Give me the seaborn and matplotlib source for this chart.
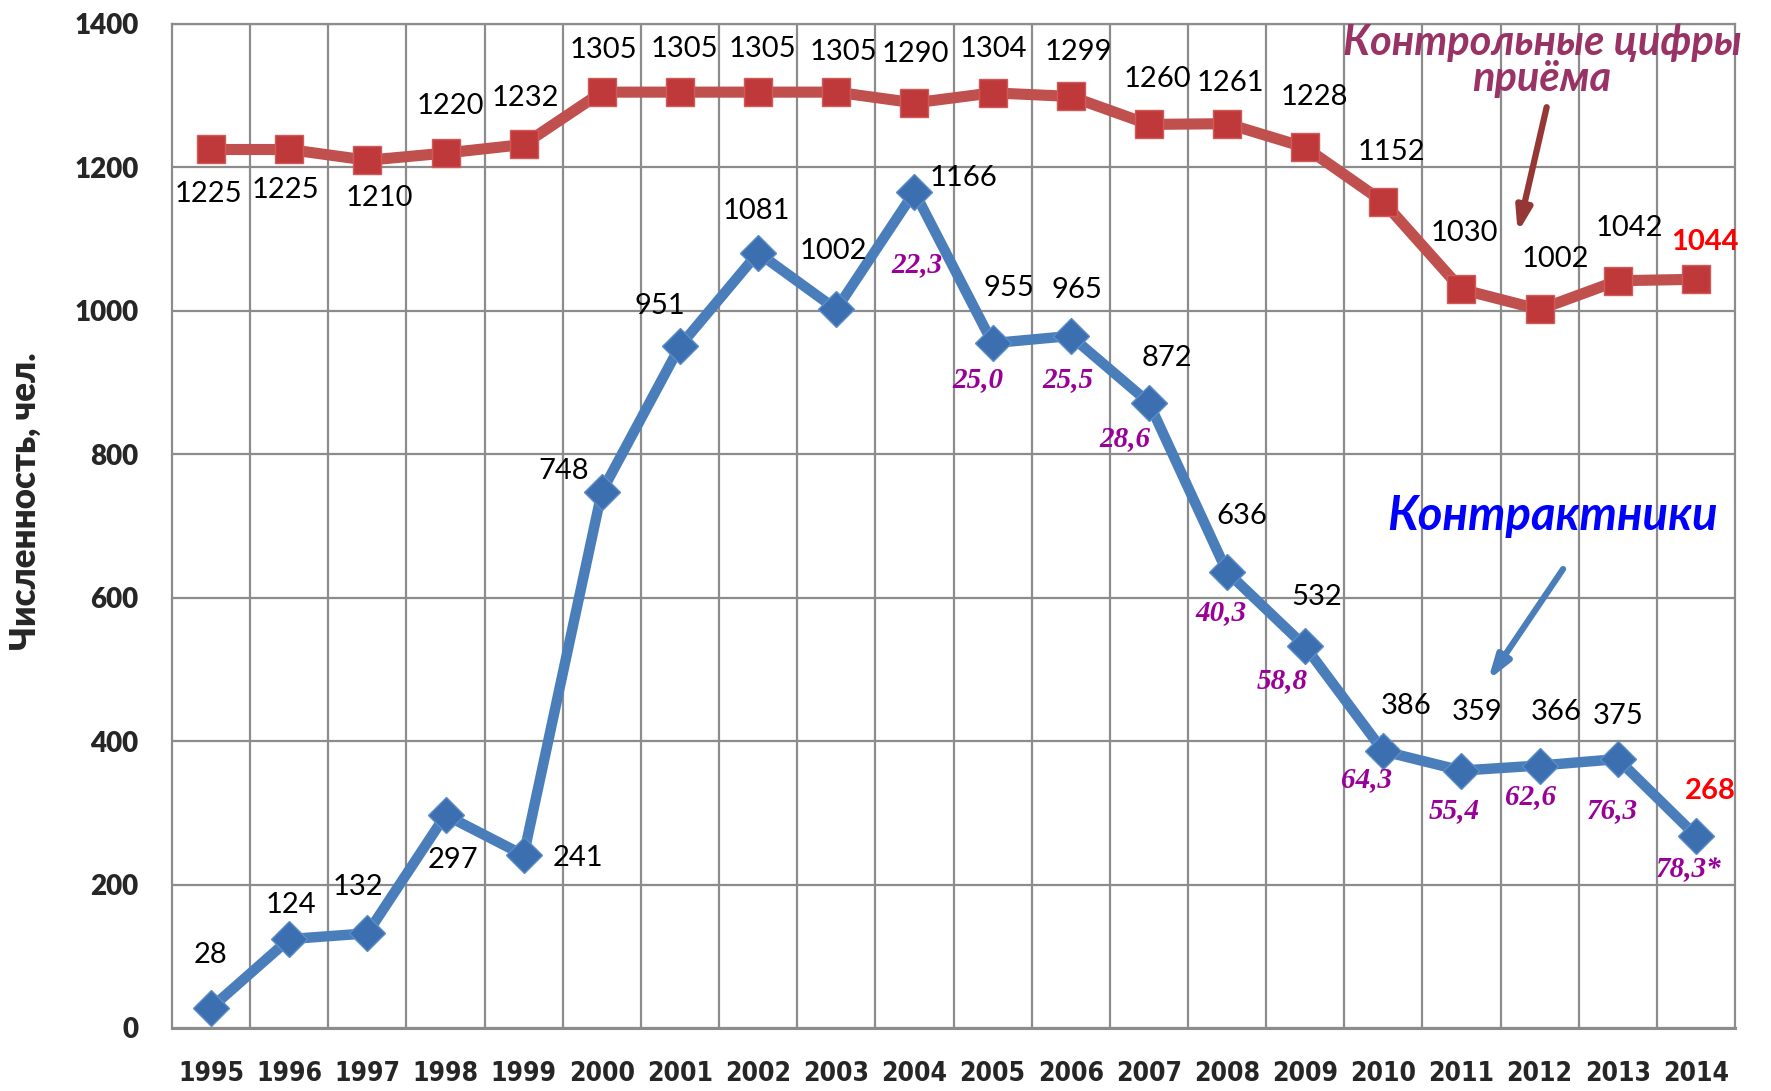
import matplotlib
matplotlib.use("Agg")
import matplotlib.pyplot as plt
import seaborn as sns

# data
years = [1995, 1996, 1997, 1998, 1999, 2000, 2001, 2002, 2003, 2004,
         2005, 2006, 2007, 2008, 2009, 2010, 2011, 2012, 2013, 2014]
plan = [1225, 1225, 1210, 1220, 1232, 1305, 1305, 1305, 1305, 1290,
        1304, 1299, 1260, 1261, 1228, 1152, 1030, 1002, 1042, 1044]
contract = [28, 124, 132, 297, 241, 748, 951, 1081, 1002, 1166,
            955, 965, 872, 636, 532, 386, 359, 366, 375, 268]
share_years = [2004, 2005, 2006, 2007, 2008, 2009, 2010, 2011, 2012, 2013, 2014]
share_labels = ["22,3", "25,0", "25,5", "28,6", "40,3", "58,8",
                "64,3", "55,4", "62,6", "76,3", "78,3*"]
yticks = [0, 200, 400, 600, 800, 1000, 1200, 1400]

# label offsets in pixels (layout only)
plan_off = [(-3, -45), (-4, -41), (12, -38), (5, 47), (2, 46), (2, 42), (4, 43),
            (4, 43), (7, 40), (1, 49), (1, 44), (8, 44), (9, 45), (3, 41),
            (9, 50), (8, 50), (3, 56), (16, 50), (12, 53), (9, 37)]
contract_off = [(-1, 53), (2, 34), (-9, 46), (7, -45), (54, -3), (-38, 21),
                (-20, 40), (-2, 42), (-3, 58), (49, 14), (16, 55), (6, 46),
                (18, 45), (15, 56), (12, 49), (23, 45), (16, 59), (17, 54),
                (0, 43), (14, 45)]
share_off = [(2, -73), (-15, -36), (-3, -44), (-24, -36), (-6, -41), (-23, -34),
             (-17, -28), (-7, -40), (-9, -31), (-5, -51), (-7, -34)]

sns.set_style("white")
plt.rcParams["font.family"] = ["Lato", "DejaVu Sans"]

red = "#C0504D"
blue = "#4A7EBB"
purple = "#990099"
grid_c = "#8C8C8C"

fig = plt.figure(figsize=(17.71, 10.91), dpi=100)
ax = fig.add_axes([172 / 1771, 1 - 1028 / 1091, (1735 - 172) / 1771, (1028 - 24) / 1091])

sns.lineplot(x=years, y=contract, ax=ax, color=blue, lw=7.5, marker="D",
             markersize=18, markerfacecolor="#3C6FB0", markeredgecolor="#5A8CC8",
             markeredgewidth=1, zorder=4)
sns.lineplot(x=years, y=plan, ax=ax, color=red, lw=8, marker="s",
             markersize=20, markerfacecolor="#C0393A", markeredgecolor="#D05A5A",
             markeredgewidth=1, zorder=4)

ax.set_xlim(years[0] - 0.5, years[-1] + 0.5)
ax.set_ylim(0, 1400)
ax.set_yticks(yticks)
ax.set_xticks(years)
ax.set_xticks([y + 0.5 for y in years[:-1]], minor=True)
ax.grid(which="minor", axis="x", color=grid_c, lw=1.6)
ax.grid(which="major", axis="y", color=grid_c, lw=1.6)
ax.grid(which="major", axis="x", visible=False)
for s in ax.spines.values():
    s.set_color(grid_c)
    s.set_linewidth(1.6)
ax.spines["bottom"].set_linewidth(2.2)
ax.tick_params(which="both", length=0)
ax.tick_params(axis="y", pad=24)
ax.tick_params(axis="x", pad=24)
for t in ax.get_yticklabels():
    t.set_fontsize(20)
    t.set_fontweight("heavy")
for t in ax.get_xticklabels():
    t.set_fontsize(19)
    t.set_fontweight("bold")
    t.set_family(["DejaVu Sans"])
    t.set_fontstretch("condensed")
ax.set_xlabel("")
ax.set_ylabel("")

fig.text(25 / 1771, 1 - 501 / 1091, "Численность, чел.", rotation=90,
         ha="center", va="center", fontsize=25, fontweight="heavy")

for i, (x, v) in enumerate(zip(years, plan)):
    last = i == len(years) - 1
    ax.annotate(str(v), (x, v), xytext=plan_off[i], textcoords="offset pixels",
                ha="center", va="center", fontsize=21,
                color="red" if last else "black",
                fontweight="bold" if last else "normal", zorder=6)
for i, (x, v) in enumerate(zip(years, contract)):
    last = i == len(years) - 1
    ax.annotate(str(v), (x, v), xytext=contract_off[i], textcoords="offset pixels",
                ha="center", va="center", fontsize=21,
                color="red" if last else "black",
                fontweight="bold" if last else "normal", zorder=6)
for i, (x, lab) in enumerate(zip(share_years, share_labels)):
    v = contract[years.index(x)]
    ax.annotate(lab, (x, v), xytext=share_off[i], textcoords="offset pixels",
                ha="center", va="center", fontsize=21, color=purple,
                fontweight="bold", fontstyle="italic",
                family=["Liberation Serif", "DejaVu Serif"], zorder=6)

ax.text(2012.03, 1349, "Контрольные цифры\nприёма", ha="center", va="center",
        fontsize=30, fontweight="bold", fontstyle="italic", color="#993366",
        linespacing=0.95, clip_on=False, zorder=6)
ax.annotate("", xy=(2011.72, 1109), xytext=(2012.09, 1284),
            arrowprops=dict(arrowstyle="-|>,head_length=1.4,head_width=0.45",
                            color="#953735", lw=4.5, shrinkA=0, shrinkB=0), zorder=6)
ax.text(2012.17, 714, "Контрактники", ha="center", va="center",
        fontsize=34, fontweight="bold", fontstyle="italic", color="#0000FF",
        clip_on=False, zorder=6)
ax.annotate("", xy=(2011.34, 485), xytext=(2012.30, 640),
            arrowprops=dict(arrowstyle="-|>,head_length=1.4,head_width=0.45",
                            color=blue, lw=4.5, shrinkA=0, shrinkB=0), zorder=6)

fig.savefig("out.png", dpi=100)
